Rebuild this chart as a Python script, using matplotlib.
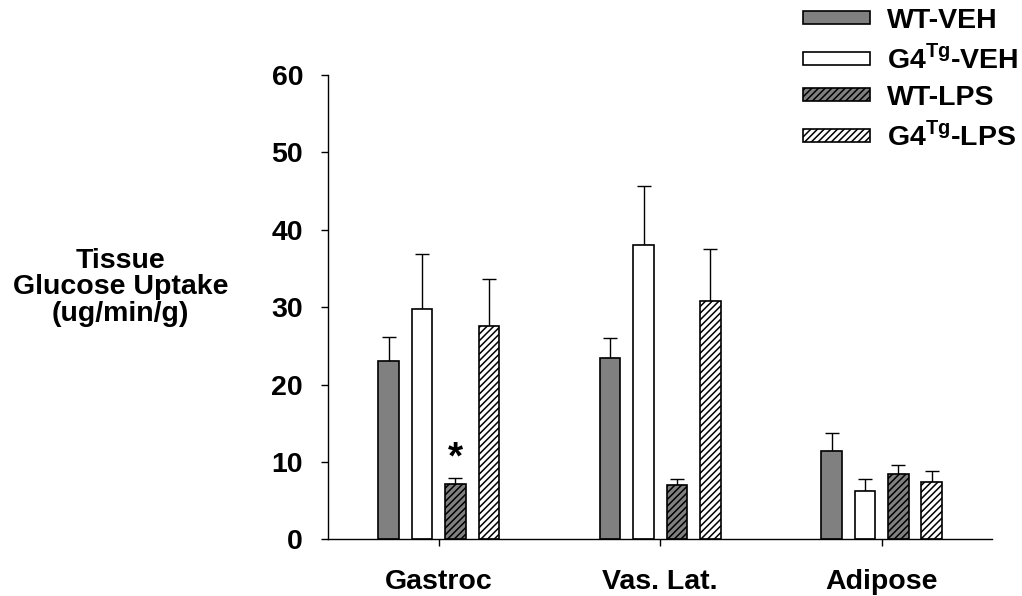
import numpy as np
import matplotlib

matplotlib.use("Agg")

import matplotlib.pyplot as plt

plt.rcParams["font.family"] = ["Liberation Sans", "DejaVu Sans"]
plt.rcParams["font.weight"] = "bold"
plt.rcParams["mathtext.fontset"] = "custom"
plt.rcParams["mathtext.rm"] = "Liberation Sans:bold"
plt.rcParams["mathtext.bf"] = "Liberation Sans:bold"
plt.rcParams["hatch.linewidth"] = 1.1

# data
categories = ["Gastroc", "Vas. Lat.", "Adipose"]
series_labels = ["WT-VEH", r"G4$^{\mathbf{Tg}}$-VEH", "WT-LPS", r"G4$^{\mathbf{Tg}}$-LPS"]

wt_veh = [23.1, 23.4, 11.4]
wt_veh_err = [3.0, 2.6, 2.35]
g4_veh = [29.8, 38.1, 6.3]
g4_veh_err = [7.1, 7.6, 1.45]
wt_lps = [7.2, 7.0, 8.4]
wt_lps_err = [0.7, 0.85, 1.15]
g4_lps = [27.6, 30.8, 7.45]
g4_lps_err = [6.0, 6.7, 1.45]

star_group = 0
star_series = 2

values = [wt_veh, g4_veh, wt_lps, g4_lps]
errors = [wt_veh_err, g4_veh_err, wt_lps_err, g4_lps_err]
faces = ["#808080", "white", "#808080", "white"]
hatches = [None, None, "/////", "/////"]

fs = 20.5

fig = plt.figure(figsize=(10.22, 5.96), dpi=100)
ax = fig.add_axes([0.321, 0.095, 0.65, 0.779])

x = np.arange(len(categories))
offsets = [-0.226, -0.075, 0.075, 0.226]
width = 0.093

handles = []
for i in range(4):
    bars = ax.bar(x + offsets[i], values[i], width, color=faces[i], edgecolor="black",
                  linewidth=1.2, hatch=hatches[i], label=series_labels[i], zorder=2)
    ax.errorbar(x + offsets[i], values[i], yerr=[np.zeros(len(x)), errors[i]],
                fmt="none", ecolor="black", elinewidth=1.0, capsize=4.8,
                capthick=1.0, zorder=1)
    handles.append(bars)

# significance marker
ax.text(x[star_group] + offsets[star_series],
        values[star_series][star_group] + errors[star_series][star_group] + 1.2,
        "*", ha="center", va="baseline", fontsize=28, fontweight="bold")

ax.set_xlim(-0.5, 2.5)
ax.set_ylim(0, 60)
ax.set_yticks(range(0, 61, 10))
ax.set_xticks(x)
ax.set_xticklabels(categories)

for s in ["top", "right"]:
    ax.spines[s].set_visible(False)
for s in ["left", "bottom"]:
    ax.spines[s].set_linewidth(1.0)

ax.tick_params(axis="y", direction="out", length=5, width=1.0, pad=13, labelsize=fs)
ax.tick_params(axis="x", direction="out", length=5, width=1.0, pad=16, labelsize=fs)
for lab in ax.get_xticklabels() + ax.get_yticklabels():
    lab.set_fontweight("bold")

fig.text(0.118, 0.518, "Tissue\nGlucose Uptake\n(ug/min/g)", ha="center", va="center",
         fontsize=fs, fontweight="bold", linespacing=1.02)

leg = fig.legend(handles=handles, loc="upper right", bbox_to_anchor=(1.013, 1.015),
                 frameon=False, fontsize=fs, handlelength=2.35, handleheight=0.33,
                 handletextpad=0.6, labelspacing=0.37, borderaxespad=0.2)
for t in leg.get_texts():
    t.set_fontweight("bold")

fig.savefig("out.png", dpi=100)
